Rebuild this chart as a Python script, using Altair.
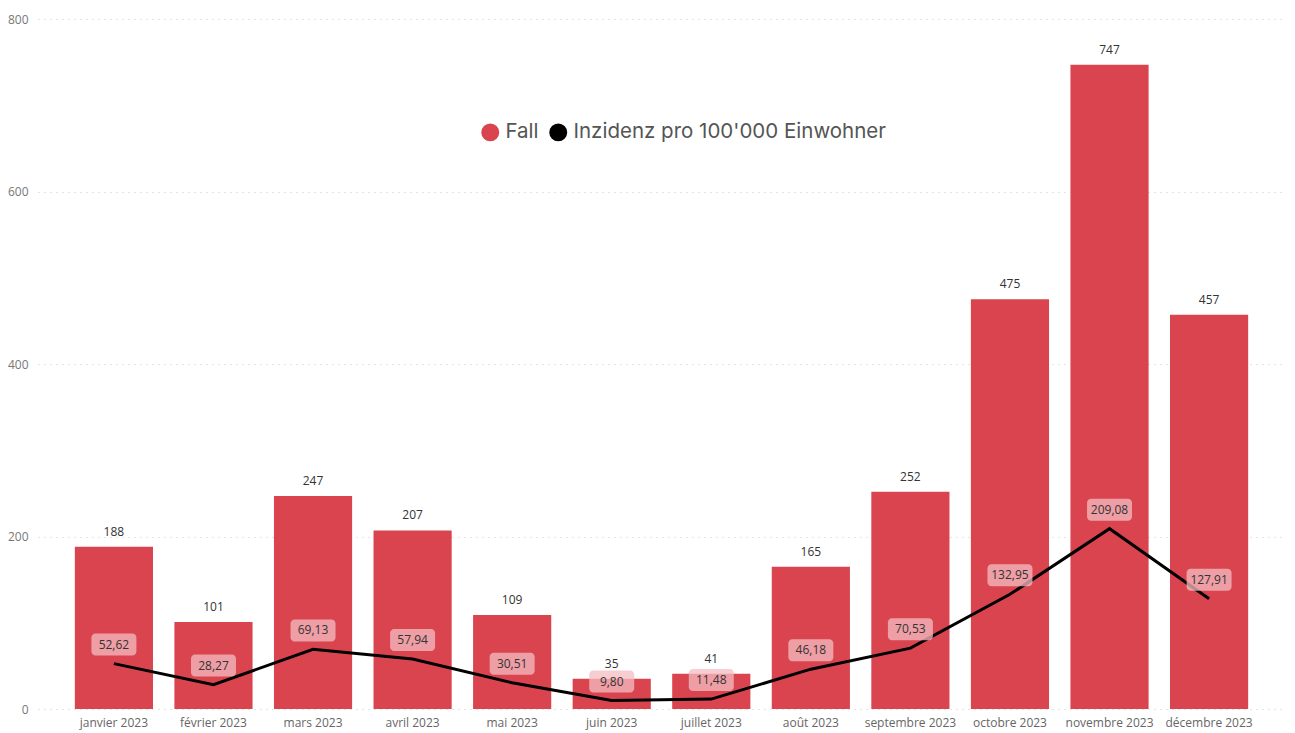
import altair as alt
import pandas as pd

months = ["janvier 2023", "février 2023", "mars 2023", "avril 2023", "mai 2023", "juin 2023",
          "juillet 2023", "août 2023", "septembre 2023", "octobre 2023", "novembre 2023", "décembre 2023"]
fall = [188, 101, 247, 207, 109, 35, 41, 165, 252, 475, 747, 457]
inzidenz = [52.62, 28.27, 69.13, 57.94, 30.51, 9.80, 11.48, 46.18, 70.53, 132.95, 209.08, 127.91]
series = ["Fall", "Inzidenz pro 100'000 Einwohner"]
y_ticks = [0, 200, 400, 600, 800]

RED = "#d9444f"
df = pd.DataFrame({
    "Monat": months,
    "Fall": fall,
    "Inzidenz": inzidenz,
    "InzLabel": [f"{v:.2f}".replace(".", ",") for v in inzidenz],
})
leg = pd.DataFrame({"Monat": [months[0], months[0]], "v": [0, 0], "Serie": series})

xenc = alt.X("Monat:N", sort=months, title=None,
             scale=alt.Scale(paddingInner=0.215, paddingOuter=0.37),
             axis=alt.Axis(labelAngle=0, ticks=False, domain=False, grid=False,
                           labelColor="#666", labelFontSize=12, labelPadding=8,
                           labelFont="Open Sans"))
yscale = alt.Scale(domain=[0, 800], nice=False)
yenc = alt.Y("Fall:Q", scale=yscale, title=None,
             axis=alt.Axis(values=y_ticks, ticks=False, domain=False, labelColor="#777",
                           labelFontSize=12, labelPadding=10, gridColor="#c8c8c8",
                           gridDash=[1, 5], labelFont="Open Sans"))

bars = alt.Chart(df).mark_bar(color=RED).encode(x=xenc, y=yenc)
bar_text = alt.Chart(df).mark_text(baseline="bottom", dy=-8, fontSize=12, color="#333",
                                   font="Open Sans").encode(
    x=alt.X("Monat:N", sort=months), y=alt.Y("Fall:Q", scale=yscale), text="Fall:Q")
line = alt.Chart(df).mark_line(color="black", strokeWidth=3).encode(
    x=alt.X("Monat:N", sort=months), y=alt.Y("Inzidenz:Q", scale=yscale))
boxes = alt.Chart(df).mark_rect(width=45, height=22, cornerRadius=4, yOffset=-19,
                                color="#f4bcc2", opacity=0.75).encode(
    x=alt.X("Monat:N", sort=months), y=alt.Y("Inzidenz:Q", scale=yscale))
box_text = alt.Chart(df).mark_text(dy=-19, fontSize=12, color="#333", font="Open Sans").encode(
    x=alt.X("Monat:N", sort=months), y=alt.Y("Inzidenz:Q", scale=yscale), text="InzLabel:N")
legend_layer = alt.Chart(leg).mark_circle(size=0).encode(
    x=alt.X("Monat:N", sort=months), y=alt.Y("v:Q", scale=yscale),
    color=alt.Color("Serie:N", sort=series,
                    scale=alt.Scale(domain=series, range=[RED, "black"]),
                    legend=alt.Legend(title=None, orient="none", direction="horizontal",
                                      legendX=442, legendY=103, symbolType="circle",
                                      symbolSize=320, symbolOpacity=1, labelFontSize=20.5,
                                      labelColor="#555", labelFont="Inter", columnPadding=9,
                                      labelOffset=5, labelLimit=0, padding=0)))

chart = alt.layer(bars, bar_text, line, boxes, box_text, legend_layer).properties(
    width=1247, height=690,
    autosize=alt.AutoSizeParams(type="none"),
    padding={"left": 30, "top": 11, "right": 0, "bottom": 24},
).configure_view(stroke=None)

chart.save("out.html", embed_options={"renderer": "svg", "actions": False})
